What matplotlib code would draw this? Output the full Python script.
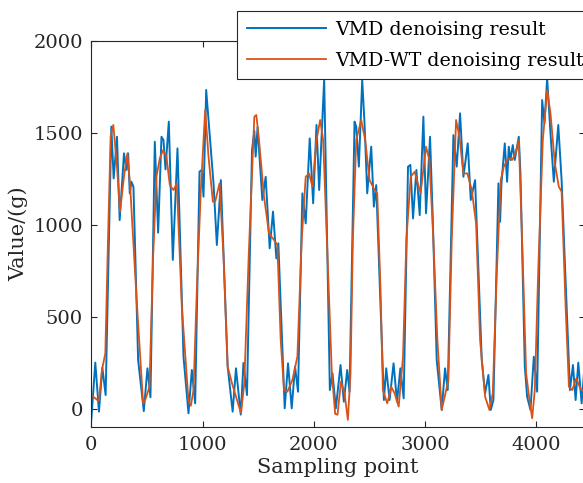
import matplotlib
matplotlib.use("Agg")
import matplotlib.pyplot as plt

# values
vmd_x = [0, 36, 69, 99, 129, 180, 201, 231, 255, 294, 316, 331, 346, 361, 379, 421, 472, 505, 532,
         571, 601, 631, 649, 667, 697, 733, 775, 829, 874, 904, 934, 973, 994, 1009, 1033, 1084, 1099,
         1129, 1165, 1226, 1271, 1301, 1344, 1368, 1400, 1445, 1466, 1478, 1495, 1538, 1568, 1604,
         1634, 1664, 1682, 1739, 1769, 1802, 1832, 1859, 1898, 1928, 1964, 1995, 2025, 2049, 2094,
         2145, 2169, 2199, 2241, 2271, 2301, 2322, 2367, 2382, 2406, 2436, 2457, 2481, 2517, 2541,
         2562, 2631, 2652, 2682, 2718, 2749, 2779, 2809, 2848, 2869, 2893, 2923, 2953, 2986, 3010,
         3046, 3070, 3106, 3151, 3181, 3205, 3256, 3286, 3316, 3346, 3385, 3412, 3451, 3511, 3541,
         3571, 3592, 3616, 3661, 3676, 3688, 3718, 3739, 3754, 3769, 3790, 3808, 3844, 3859, 3898,
         3919, 3949, 3979, 4009, 4054, 4075, 4099, 4129, 4159, 4199, 4229, 4304, 4331, 4355, 4379,
         4409, 4430]
vmd_y = [-58, 253, -13, 226, 77, 1533, 1252, 1478, 1026, 1388, 1298, 1388, 1171, 1234, 1207, 267, -10,
         222, 65, 1451, 958, 1478, 1460, 1301, 1560, 810, 1415, 285, -22, 213, 32, 1289, 1298, 1153,
         1732, 1343, 1225, 891, 1243, 231, -13, 222, -29, 251, 77, 1406, 1510, 1370, 1530, 1135,
         1261, 873, 1072, 818, 900, 5, 249, 5, 231, 95, 1171, 1008, 1469, 1117, 1542, 1189, 1790,
         104, 195, 5, 240, 41, 213, 95, 1560, 1533, 1316, 1786, 1551, 1171, 1424, 1099, 1216, 50,
         222, 50, 249, 41, 222, 59, 1316, 1325, 1035, 1298, 1053, 1587, 1063, 1478, 1045, 267, -4,
         222, 104, 1487, 1316, 1605, 1261, 1442, 1135, 1243, 267, 86, 186, -4, 50, 1225, 1017, 1225,
         1442, 1234, 1424, 1352, 1433, 1352, 1478, 1279, 231, 68, -4, 285, 95, 1677, 1551, 1795,
         1496, 1234, 1542, 1243, 104, 240, 50, 253, 32, 195]

wt_x = [0, 54, 69, 96, 126, 150, 174, 198, 231, 258, 294, 324, 348, 406, 466, 487, 523, 556, 586,
        616, 646, 676, 706, 727, 739, 769, 814, 874, 895, 919, 949, 985, 1024, 1054, 1093, 1114,
        1153, 1189, 1226, 1265, 1310, 1346, 1376, 1415, 1466, 1484, 1508, 1553, 1598, 1643, 1673,
        1703, 1733, 1763, 1808, 1853, 1892, 1928, 1958, 1988, 2025, 2058, 2085, 2124, 2163, 2193,
        2214, 2245, 2277, 2307, 2331, 2352, 2382, 2427, 2463, 2502, 2547, 2571, 2601, 2622, 2661,
        2697, 2728, 2764, 2803, 2833, 2872, 2908, 2944, 2962, 3010, 3040, 3076, 3112, 3151, 3181,
        3211, 3241, 3280, 3310, 3346, 3382, 3421, 3460, 3496, 3541, 3580, 3610, 3646, 3682, 3709,
        3748, 3784, 3814, 3844, 3874, 3910, 3940, 3964, 3988, 4018, 4060, 4099, 4129, 4168, 4204,
        4229, 4265, 4295, 4325, 4361, 4397, 4430]
wt_y = [77, 50, 47, 213, 303, 918, 1478, 1542, 1316, 1072, 1262, 1388, 1225, 611, 32, 54, 122, 828,
        1262, 1361, 1406, 1370, 1216, 1198, 1189, 1225, 556, 46, 19, 104, 647, 1189, 1623, 1370,
        1126, 1126, 1225, 828, 231, 141, 50, -22, 141, 828, 1587, 1596, 1460, 1153, 954, 918, 891,
        375, 104, 95, 158, 285, 918, 1261, 1279, 1207, 1460, 1569, 1460, 827, 195, -25, -30, 150,
        86, -58, 195, 918, 1460, 1569, 1460, 1243, 1189, 1171, 647, 104, 32, 122, 86, 14, 285, 918,
        1261, 1288, 1207, 1175, 1424, 1352, 918, 375, -4, 77, 158, 918, 1569, 1478, 1279, 1279,
        1189, 1008, 375, 68, -4, 86, 737, 1243, 1316, 1361, 1352, 1388, 1460, 918, 195, 50, -49,
        104, 737, 1460, 1731, 1605, 1334, 1207, 1180, 556, 122, 104, 167, 113, 95]

plt.rcParams['font.family'] = ['DejaVu Serif']

fig = plt.figure(figsize=(5.83, 4.83), dpi=100)
ax = fig.add_axes([0.1566, 0.1153, 0.846, 0.8008])

ax.plot(vmd_x, vmd_y, color='#0072BD', lw=1.4, solid_joinstyle='round',
        label='VMD denoising result')
ax.plot(wt_x, wt_y, color='#D95319', lw=1.3, solid_joinstyle='round',
        label='VMD-WT denoising result')

ax.set_xlim(0, 4435)
ax.set_ylim(-98, 2000)
ax.set_xticks([0, 1000, 2000, 3000, 4000])
ax.set_yticks([0, 500, 1000, 1500, 2000])
ax.tick_params(direction='in', top=True, right=True, length=4, width=0.8,
               colors='#262626', labelsize=14, pad=6)
for s in ax.spines.values():
    s.set_color('#262626')
    s.set_linewidth(0.8)

ax.set_xlabel('Sampling point', fontsize=15, color='#262626', labelpad=3)
ax.set_ylabel('Value/(g)', fontsize=15, color='#262626', labelpad=4)

leg = ax.legend(loc='upper left', bbox_to_anchor=(237 / 583, 1 - 11 / 483),
                bbox_transform=fig.transFigure, borderaxespad=0, fancybox=False,
                framealpha=1, edgecolor='#262626', handlelength=4.2, handletextpad=0.45,
                fontsize=13.7, borderpad=0.5, labelspacing=0.7)
leg.get_frame().set_linewidth(0.8)
leg.set_zorder(5)

fig.savefig('out.png', dpi=100)
